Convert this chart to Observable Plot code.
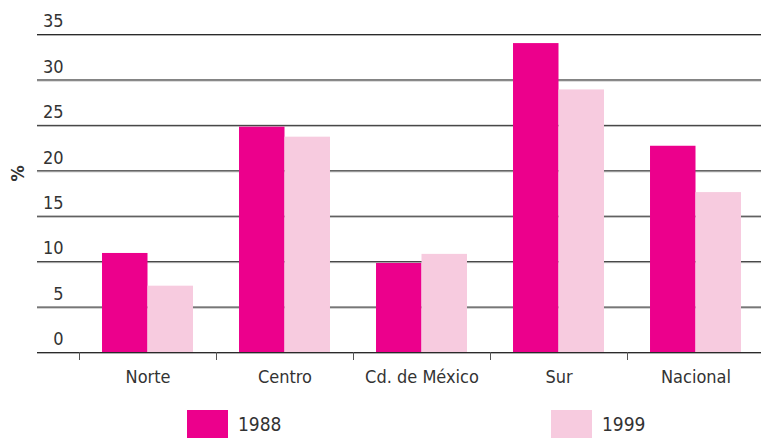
<!DOCTYPE html>
<html><head><meta charset="utf-8">
<script src="https://cdn.jsdelivr.net/npm/d3@7"></script>
<script src="https://cdn.jsdelivr.net/npm/@observablehq/plot@0.6"></script>
<style>
body{margin:0;background:#fff;font-family:"Liberation Sans Narrow","DejaVu Sans Condensed",sans-serif;}
#chart svg{display:block;font-family:"Liberation Sans Narrow","DejaVu Sans Condensed",sans-serif;}
#legend{position:relative;height:41px;width:761px;}
.item{position:absolute;top:10px;display:flex;align-items:center;font-size:19px;color:#333;line-height:28px}
.sw{width:41px;height:28px;margin-right:10px}
</style></head><body>
<div id="chart"></div><div id="legend"></div>
<script>
const regions = ["Norte","Centro","Cd. de México","Sur","Nacional"];
const years = ["1988","1999"];
const values1988 = [10.9, 24.8, 9.8, 34.0, 22.7];
const values1999 = [7.3, 23.7, 10.8, 28.9, 17.6];
const colors = ["#EC008C","#F7CBDF"];
const yTicks = [0,5,10,15,20,25,30,35];
const yLabel = "%";

const W = 761, H = 400, mL = 37, mR = 0, mT = 34, mB = 48;
const bandStart = 79, step = 137;
const pad = step * 0.168, bw = (step - 2 * pad) / 2;

const data = regions.flatMap((r, i) => [
  {region: r, year: years[0], value: values1988[i]},
  {region: r, year: years[1], value: values1999[i]}
]);

const chart = Plot.plot({
  width: W, height: H,
  marginLeft: mL, marginRight: mR, marginTop: mT, marginBottom: mB,
  style: {fontFamily: '"Liberation Sans Narrow","DejaVu Sans Condensed",sans-serif', color: "#333"},
  x: {domain: regions, range: [bandStart, bandStart + step * regions.length], padding: 0, axis: null},
  y: {domain: [0, 35], axis: null},
  marks: [
    Plot.ruleY(yTicks, {stroke: "#b0b0b0", dy: 1}),
    Plot.ruleY(yTicks, {stroke: "#2a2a2a"}),
    Plot.barY(data.filter(d => d.year === years[0]), {x: "region", y: "value", fill: colors[0], insetLeft: pad, insetRight: pad + bw}),
    Plot.barY(data.filter(d => d.year === years[1]), {x: "region", y: "value", fill: colors[1], insetLeft: pad + bw, insetRight: pad}),
    Plot.ruleY([0], {stroke: "#2a2a2a"}),
    Plot.axisY(yTicks, {tickSize: 0, tickPadding: 0, dx: 26, dy: -13, fontSize: 18, fill: "#333", label: null}),
    Plot.axisX({tickSize: 0, tickPadding: 18, fontSize: 18, fill: "#333", label: null}),
    Plot.axisX({tickSize: 8, dx: -step / 2, tickFormat: () => "", stroke: "#555", label: null}),
    Plot.text([yLabel], {frameAnchor: "left", dx: -19, dy: -12, rotate: -90, fontWeight: "bold", fontSize: 18, fill: "#333"})
  ]
});
document.getElementById("chart").appendChild(chart);

const legendLefts = [187, 551];
const legend = document.getElementById("legend");
years.forEach((y, i) => {
  const item = document.createElement("div");
  item.className = "item";
  item.style.left = legendLefts[i] + "px";
  item.innerHTML = `<span class="sw" style="background:${colors[i]}"></span><span>${y}</span>`;
  legend.appendChild(item);
});
</script>
</body></html>
